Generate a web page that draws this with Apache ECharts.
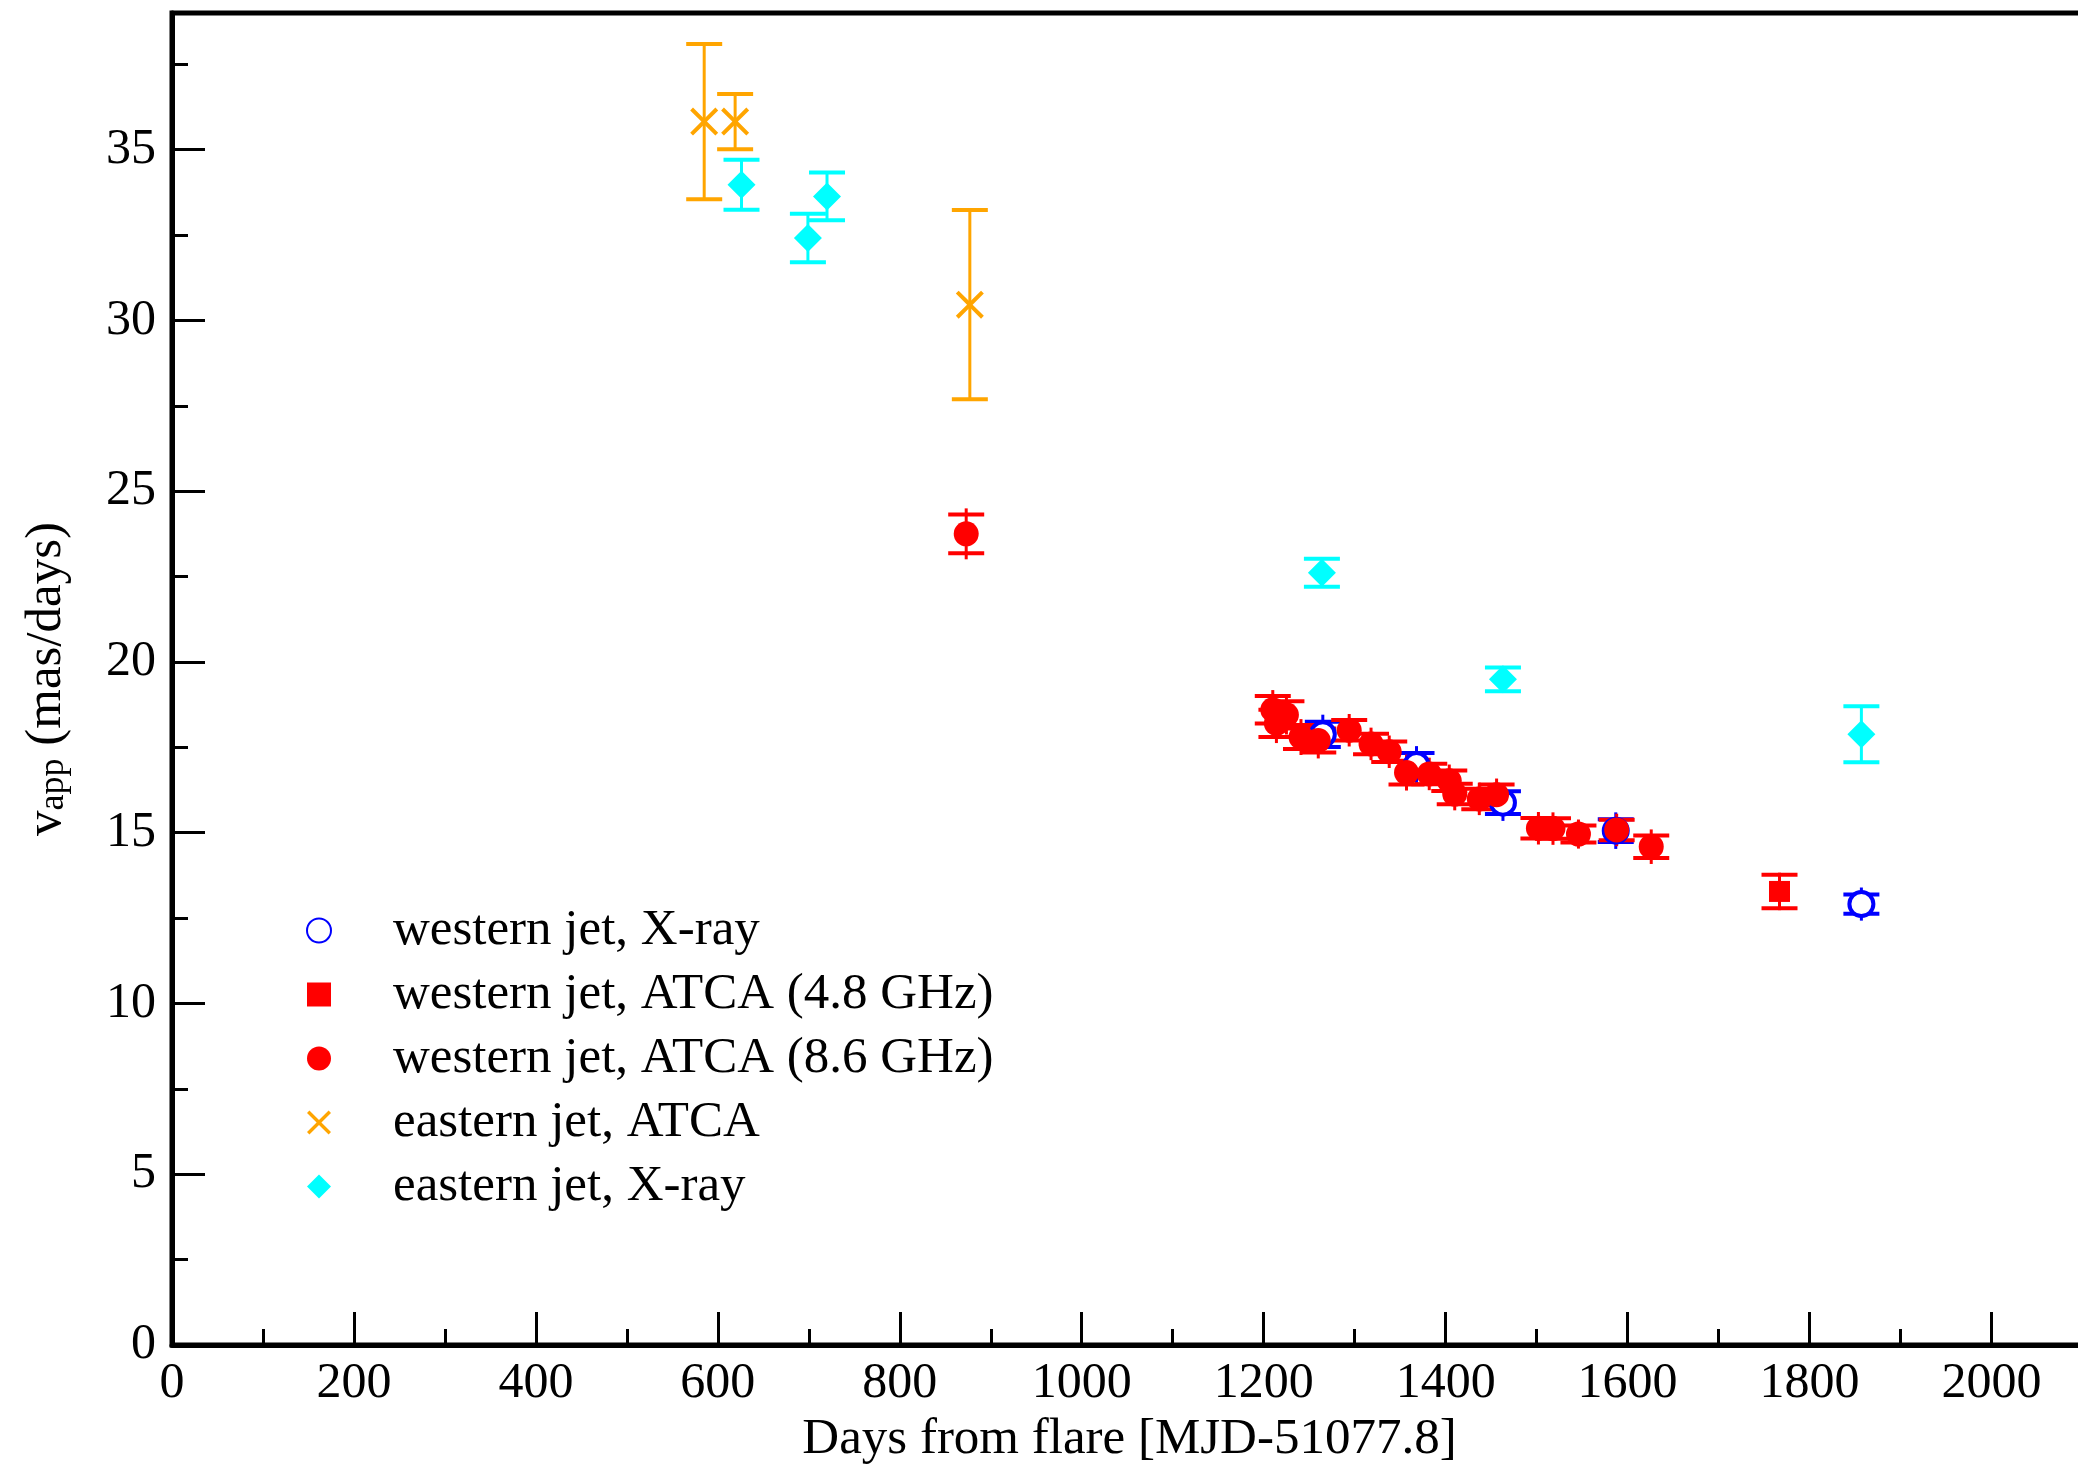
<!DOCTYPE html>
<html>
<head>
<meta charset="utf-8">
<script src="https://cdn.jsdelivr.net/npm/echarts@6/dist/echarts.min.js"></script>
<style>
html,body{margin:0;padding:0;background:#fff;}
#chart{width:2078px;height:1464px;}
</style>
</head>
<body>
<div id="chart"></div>
<script>
// ---- data ----
const westXrayX   = [1265, 1368, 1463, 1587, 1857];
const westXrayY   = [17.88, 16.98, 15.88, 15.06, 12.91];
const westXrayErr = [0.37, 0.35, 0.33, 0.33, 0.28];

const west48X   = [1767];
const west48Y   = [13.28];
const west48Err = [0.49];

const west86X   = [873, 1210, 1225, 1214, 1241, 1260, 1294, 1318, 1338, 1357, 1382, 1404, 1410, 1437, 1456, 1502, 1518, 1546, 1588, 1626];
const west86Y   = [23.75, 18.6, 18.45, 18.2, 17.8, 17.7, 18.0, 17.6, 17.37, 16.76, 16.72, 16.52, 16.13, 15.99, 16.11, 15.13, 15.12, 14.96, 15.08, 14.59];
const west86Err = [0.57, 0.4, 0.4, 0.4, 0.35, 0.35, 0.3, 0.3, 0.3, 0.35, 0.3, 0.3, 0.3, 0.3, 0.3, 0.3, 0.3, 0.25, 0.3, 0.33];

const eastAtcaX   = [585, 619, 877];
const eastAtcaY   = [35.82, 35.82, 30.46];
const eastAtcaErr = [2.27, 0.81, 2.77];

const eastXrayX   = [626, 699, 720, 1264, 1463, 1857];
const eastXrayY   = [33.97, 32.41, 33.63, 22.61, 19.49, 17.88];
const eastXrayErr = [0.73, 0.71, 0.7, 0.41, 0.35, 0.82];

const xTicks = [0, 200, 400, 600, 800, 1000, 1200, 1400, 1600, 1800, 2000];
const yTicks = [0, 5, 10, 15, 20, 25, 30, 35];

const names = ['western jet, X-ray', 'western jet, ATCA (4.8 GHz)', 'western jet, ATCA (8.6 GHz)', 'eastern jet, ATCA', 'eastern jet, X-ray'];

// ---- helpers ----
const FONT = 'Liberation Serif';
const crossPath = 'path://M0,2.8 L2.8,0 L14,11.2 L25.2,0 L28,2.8 L16.8,14 L28,25.2 L25.2,28 L14,16.8 L2.8,28 L0,25.2 L11.2,14 Z';

function pts(xs, ys) { return xs.map((x, i) => [x, ys[i]]); }
function errPts(xs, ys, es) { return xs.map((x, i) => [x, ys[i], es[i]]); }

function errSeries(name, xs, ys, es, color, ext) {
  return {
    type: 'custom', name: name + ' err', silent: true,
    xAxisIndex: 0, yAxisIndex: 0,
    data: errPts(xs, ys, es),
    encode: { x: 0, y: 1 },
    renderItem: function (params, api) {
      const x = api.value(0), y = api.value(1), e = api.value(2);
      const t = api.coord([x, y + e]);
      const b = api.coord([x, y - e]);
      const hw = 18;
      return {
        type: 'group',
        children: [
          { type: 'line', shape: { x1: t[0], y1: t[1] - ext, x2: b[0], y2: b[1] + ext }, style: { stroke: color, lineWidth: 3 } },
          { type: 'line', shape: { x1: t[0] - hw, y1: t[1], x2: t[0] + hw, y2: t[1] }, style: { stroke: color, lineWidth: 4 } },
          { type: 'line', shape: { x1: b[0] - hw, y1: b[1], x2: b[0] + hw, y2: b[1] }, style: { stroke: color, lineWidth: 4 } }
        ]
      };
    }
  };
}

function scatter(name, xs, ys, symbol, size, itemStyle) {
  return {
    type: 'scatter', name: name, xAxisIndex: 0, yAxisIndex: 0,
    data: pts(xs, ys), symbol: symbol, symbolSize: size,
    itemStyle: itemStyle, emphasis: { disabled: true }
  };
}

const chart = echarts.init(document.getElementById('chart'), null, { renderer: 'canvas' });

const tickLabel = { fontSize: 50, fontFamily: FONT, color: '#000' };

chart.setOption({
  animation: false,
  backgroundColor: '#fff',
  grid: {
    left: 172, top: 13, right: -9, bottom: 119,
    show: true, borderColor: '#000', borderWidth: 5,
    containLabel: false, outerBoundsMode: 'none'
  },
  xAxis: [
    {
      type: 'value', position: 'bottom', min: 0, max: 2105, interval: 200,
      axisLine: { show: true, lineStyle: { color: '#000', width: 5 } },
      axisTick: { show: true, inside: true, length: 33, lineStyle: { color: '#000', width: 3 } },
      axisLabel: Object.assign({ margin: 14, showMaxLabel: false,
        formatter: v => (xTicks.indexOf(v) >= 0 ? String(v) : '') }, tickLabel),
      splitLine: { show: false },
      name: 'Days from flare [MJD-51077.8]', nameLocation: 'middle', nameGap: 66,
      nameTextStyle: { fontSize: 51, fontFamily: FONT, color: '#000' }
    },
    {
      type: 'value', position: 'bottom', min: 0, max: 2105, interval: 100,
      axisLine: { show: false },
      axisTick: { show: true, inside: true, length: 16, lineStyle: { color: '#000', width: 3 } },
      axisLabel: { show: false }, splitLine: { show: false }
    }
  ],
  yAxis: [
    {
      type: 'value', position: 'left', min: 0, max: 39, interval: 5,
      axisLine: { show: true, lineStyle: { color: '#000', width: 5 } },
      axisTick: { show: true, inside: true, length: 33, lineStyle: { color: '#000', width: 3 } },
      axisLabel: Object.assign({ margin: 16, showMaxLabel: false,
        formatter: v => (yTicks.indexOf(v) >= 0 ? String(v) : '') }, tickLabel),
      splitLine: { show: false },
      name: '{v|v}{s|app}{t| (mas/days)}', nameLocation: 'middle', nameGap: 100,
      nameTextStyle: {
        fontFamily: FONT, color: '#000',
        rich: {
          v: { fontSize: 51, fontFamily: FONT, color: '#000', lineHeight: 51, verticalAlign: 'top' },
          s: { fontSize: 36, fontFamily: FONT, color: '#000', lineHeight: 36, padding: [36, 0, 0, 0], verticalAlign: 'bottom' },
          t: { fontSize: 51, fontFamily: FONT, color: '#000', lineHeight: 51, verticalAlign: 'top' }
        }
      }
    },
    {
      type: 'value', position: 'left', min: 0, max: 39, interval: 2.5,
      axisLine: { show: false },
      axisTick: { show: true, inside: true, length: 16, lineStyle: { color: '#000', width: 3 } },
      axisLabel: { show: false }, splitLine: { show: false }
    }
  ],
  legend: {
    orient: 'vertical', left: 301, top: 900,
    itemWidth: 24, itemHeight: 24, itemGap: 13,
    textStyle: { fontSize: 51, fontFamily: FONT, color: '#000', lineHeight: 48, padding: [0, 0, 0, 57] },
    selectedMode: false,
    data: [
      { name: names[0], icon: 'circle' },
      { name: names[1], icon: 'rect' },
      { name: names[2], icon: 'circle' },
      { name: names[3], icon: crossPath },
      { name: names[4], icon: 'diamond' }
    ]
  },
  series: [
    errSeries(names[0], westXrayX, westXrayY, westXrayErr, '#0000ff', 7),
    scatter(names[0], westXrayX, westXrayY, 'circle', 24, { color: '#ffffff', borderColor: '#0000ff', borderWidth: 4, opacity: 1 }),
    errSeries(names[1], west48X, west48Y, west48Err, '#ff0000', 2),
    scatter(names[1], west48X, west48Y, 'rect', 21, { color: '#ff0000', opacity: 1 }),
    errSeries(names[2], west86X, west86Y, west86Err, '#ff0000', 6),
    scatter(names[2], west86X, west86Y, 'circle', 25, { color: '#ff0000', opacity: 1 }),
    errSeries(names[3], eastAtcaX, eastAtcaY, eastAtcaErr, '#ffa500', 0),
    scatter(names[3], eastAtcaX, eastAtcaY, crossPath, 28, { color: '#ffa500', opacity: 1 }),
    errSeries(names[4], eastXrayX, eastXrayY, eastXrayErr, '#00ffff', 0),
    scatter(names[4], eastXrayX, eastXrayY, 'diamond', 28, { color: '#00ffff', opacity: 1 })
  ]
});
</script>
</body>
</html>
